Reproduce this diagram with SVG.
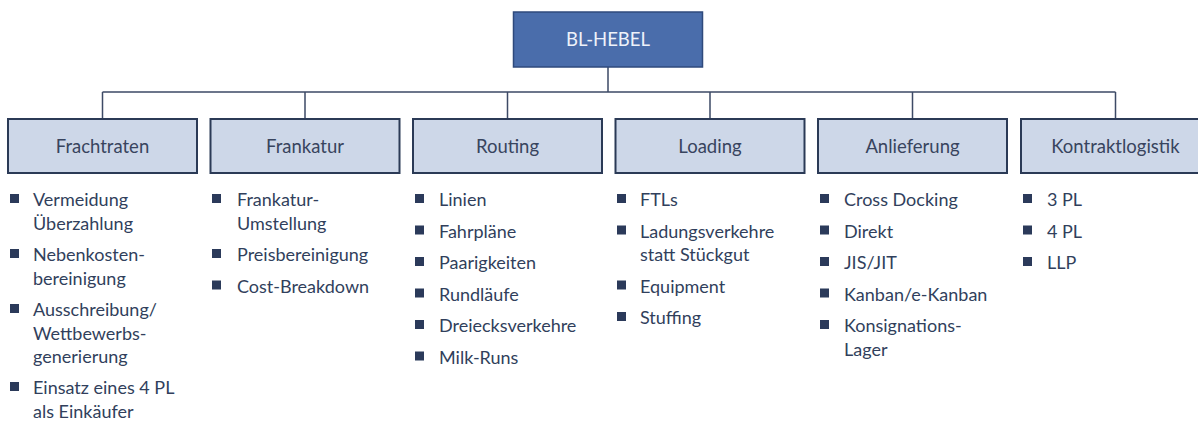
<svg xmlns="http://www.w3.org/2000/svg" width="1198" height="421" viewBox="0 0 1198 421">
<style>
.box{fill:#cdd7e8;stroke:#2b3a56;stroke-width:2}
.root{fill:#4a6dab;stroke:#2f4a7c;stroke-width:1.5}
.hd{font-family:Lato,"Open Sans",sans-serif;font-size:18.5px;fill:#38445e;text-anchor:middle}
.rt{font-family:Lato,"Open Sans",sans-serif;font-size:18.5px;fill:#eef2fa;text-anchor:middle}
.it{font-family:Lato,"Open Sans",sans-serif;font-size:18px;fill:#313f5c}
.b{fill:#2b3a5a}
.ln{stroke:#3d4a66;stroke-width:1.5;fill:none}
</style>
<rect width="1198" height="421" fill="#ffffff"/>
<g id="connectors">
<path class="ln" d="M608 67V92M102.5 92H1115.5M102.5 92V119M305 92V119M507.5 92V119M710 92V119M912.5 92V119M1115.5 92V119"/>
</g>
<g id="root">
<rect class="root" x="513.5" y="12" width="189" height="55"/>
<text class="rt" x="608" y="46">BL-HEBEL</text>
</g>
<g id="frachtraten">
<rect class="box" x="8" y="119" width="189" height="54"/>
<text class="hd" x="102.5" y="152.5">Frachtraten</text>
<rect class="b" x="10" y="194" width="9" height="9"/>
<rect class="b" x="10" y="249" width="9" height="9"/>
<rect class="b" x="10" y="304" width="9" height="9"/>
<rect class="b" x="10" y="382" width="9" height="9"/>
<text class="it"><tspan x="33" y="206">Vermeidung</tspan><tspan x="33" y="229.5">Überzahlung</tspan><tspan x="33" y="261">Nebenkosten-</tspan><tspan x="33" y="284.5">bereinigung</tspan><tspan x="33" y="316">Ausschreibung/</tspan><tspan x="33" y="339.5">Wettbewerbs-</tspan><tspan x="33" y="363">generierung</tspan><tspan x="33" y="394">Einsatz eines 4 PL</tspan><tspan x="33" y="417.5">als Einkäufer</tspan></text>
</g>
<g id="frankatur">
<rect class="box" x="210.5" y="119" width="189" height="54"/>
<text class="hd" x="305" y="152.5">Frankatur</text>
<rect class="b" x="212" y="194" width="9" height="9"/>
<rect class="b" x="212" y="249" width="9" height="9"/>
<rect class="b" x="212" y="280.5" width="9" height="9"/>
<text class="it"><tspan x="237" y="206">Frankatur-</tspan><tspan x="237" y="229.5">Umstellung</tspan><tspan x="237" y="261">Preisbereinigung</tspan><tspan x="237" y="292.5">Cost-Breakdown</tspan></text>
</g>
<g id="routing">
<rect class="box" x="413" y="119" width="189" height="54"/>
<text class="hd" x="507.5" y="152.5">Routing</text>
<rect class="b" x="415" y="194" width="9" height="9"/>
<rect class="b" x="415" y="225.5" width="9" height="9"/>
<rect class="b" x="415" y="257" width="9" height="9"/>
<rect class="b" x="415" y="288.5" width="9" height="9"/>
<rect class="b" x="415" y="320" width="9" height="9"/>
<rect class="b" x="415" y="351.5" width="9" height="9"/>
<text class="it"><tspan x="439" y="206">Linien</tspan><tspan x="439" y="237.5">Fahrpläne</tspan><tspan x="439" y="269">Paarigkeiten</tspan><tspan x="439" y="300.5">Rundläufe</tspan><tspan x="439" y="332">Dreiecksverkehre</tspan><tspan x="439" y="363.5">Milk-Runs</tspan></text>
</g>
<g id="loading">
<rect class="box" x="615.5" y="119" width="189" height="54"/>
<text class="hd" x="710" y="152.5">Loading</text>
<rect class="b" x="617" y="194" width="9" height="9"/>
<rect class="b" x="617" y="225.5" width="9" height="9"/>
<rect class="b" x="617" y="280.5" width="9" height="9"/>
<rect class="b" x="617" y="312" width="9" height="9"/>
<text class="it"><tspan x="640" y="206">FTLs</tspan><tspan x="640" y="237.5">Ladungsverkehre</tspan><tspan x="640" y="261">statt Stückgut</tspan><tspan x="640" y="292.5">Equipment</tspan><tspan x="640" y="324">Stuffing</tspan></text>
</g>
<g id="anlieferung">
<rect class="box" x="818" y="119" width="189" height="54"/>
<text class="hd" x="912.5" y="152.5">Anlieferung</text>
<rect class="b" x="820" y="194" width="9" height="9"/>
<rect class="b" x="820" y="225.5" width="9" height="9"/>
<rect class="b" x="820" y="257" width="9" height="9"/>
<rect class="b" x="820" y="288.5" width="9" height="9"/>
<rect class="b" x="820" y="320" width="9" height="9"/>
<text class="it"><tspan x="844" y="206">Cross Docking</tspan><tspan x="844" y="237.5">Direkt</tspan><tspan x="844" y="269">JIS/JIT</tspan><tspan x="844" y="300.5">Kanban/e-Kanban</tspan><tspan x="844" y="332">Konsignations-</tspan><tspan x="844" y="355.5">Lager</tspan></text>
</g>
<g id="kontraktlogistik">
<rect class="box" x="1021" y="119" width="189" height="54"/>
<text class="hd" x="1115.5" y="152.5">Kontraktlogistik</text>
<rect class="b" x="1023" y="194" width="9" height="9"/>
<rect class="b" x="1023" y="225.5" width="9" height="9"/>
<rect class="b" x="1023" y="257" width="9" height="9"/>
<text class="it"><tspan x="1047" y="206">3 PL</tspan><tspan x="1047" y="237.5">4 PL</tspan><tspan x="1047" y="269">LLP</tspan></text>
</g>
</svg>
